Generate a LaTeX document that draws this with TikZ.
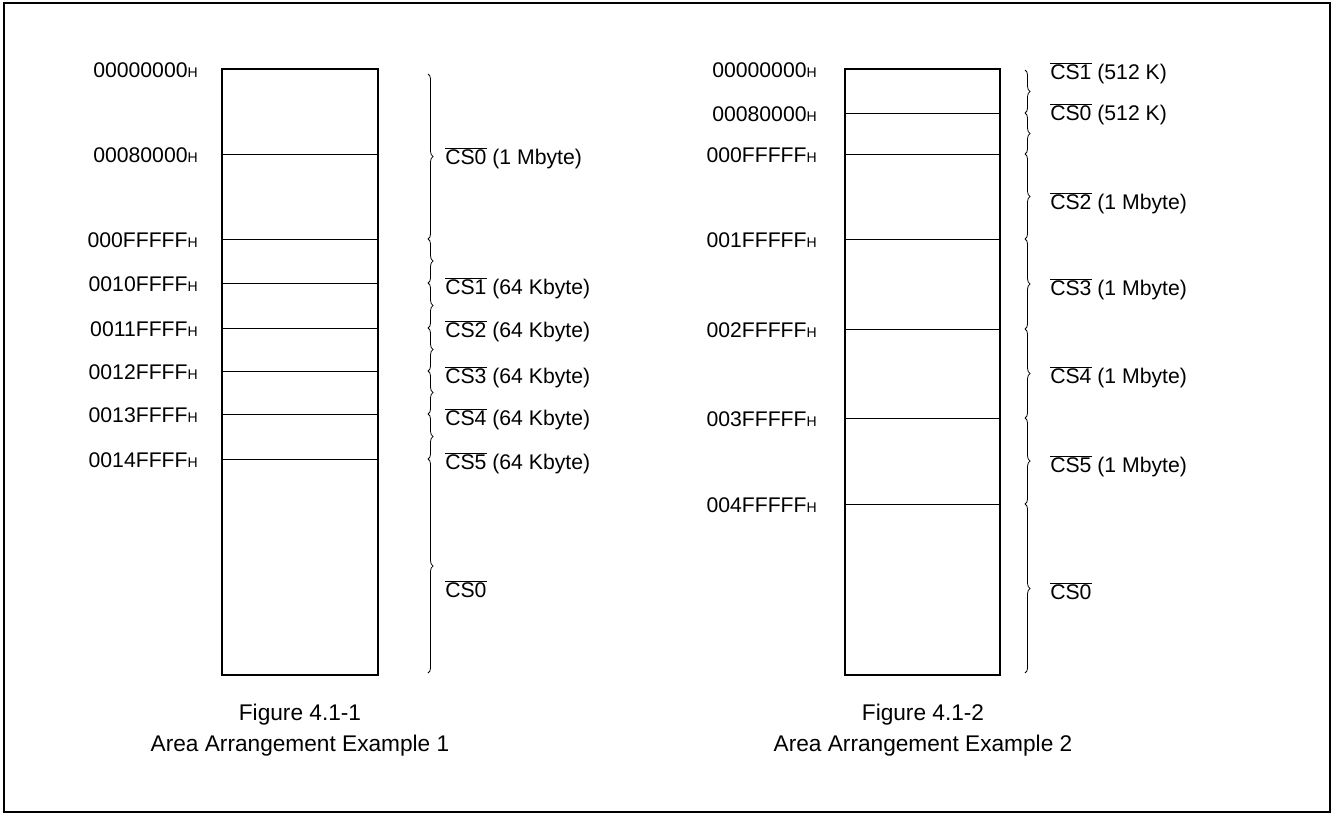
\documentclass[tikz,border=0pt]{standalone}
\usepackage{fontspec}
\setmainfont{Liberation Sans}
\usetikzlibrary{decorations.pathreplacing}

% small H after an address
\newcommand{\hsub}{{\fontsize{10.5}{11}\selectfont H}}
% chip select with a bar over it
\newcommand{\csbar}[1]{$\overline{\mbox{#1}}$}

\tikzset{
  membox/.style={line width=1.9pt},
  sepline/.style={line width=0.75pt},
  brc/.style={decorate, decoration={brace, amplitude=3.8pt}, line width=0.6pt},
  addr/.style={anchor=base east, inner sep=0pt, font=\fontsize{15.9}{19}\selectfont},
  cslab/.style={anchor=base west, inner sep=0pt, font=\fontsize{15.9}{19}\selectfont},
  figcap/.style={align=center, inner sep=0pt, font=\fontsize{17}{23.25}\selectfont}
}

\begin{document}
\begin{tikzpicture}[x=0.75pt, y=-0.75pt]
  \useasboundingbox (0,0) rectangle (1333,815);
  % outer frame
  \draw[line width=1.5pt] (4,3) rectangle (1330,812);

  % Example 1
  \draw[membox] (222,69) rectangle (378,675);
  \node[addr] (a1top) at (198,77) {00000000\hsub};
  \foreach \y/\ad [count=\i] in {154/00080000, 239/000FFFFF, 283/0010FFFF,
      328/0011FFFF, 371/0012FFFF, 414/0013FFFF, 459/0014FFFF} {
    \draw[sepline] (222,\y) -- (378,\y);
    \node[addr] (a1\i) at (198,\y+8) {\ad\hsub};
  }
  \foreach \a/\b in {74/239, 239/283, 283/328, 328/371, 371/414, 414/459, 459/673}
    \draw[brc] (428,\a) -- (428,\b);
  \foreach \y/\txt [count=\i] in {157/{\csbar{CS0} (1 Mbyte)}, 287/{\csbar{CS1} (64 Kbyte)},
      330/{\csbar{CS2} (64 Kbyte)}, 376/{\csbar{CS3} (64 Kbyte)},
      418/{\csbar{CS4} (64 Kbyte)}, 462/{\csbar{CS5} (64 Kbyte)}, 590/{\csbar{CS0}}}
    \node[cslab] (c1\i) at (445,\y+7.5) {\txt};
  \node[figcap] (cap1) at (300,730) {Figure 4.1-1\\Area Arrangement Example 1};

  % Example 2
  \draw[membox] (845,69) rectangle (1000,675);
  \node[addr] (a2top) at (817,77) {00000000\hsub};
  \foreach \y/\ad [count=\i] in {113/00080000, 154/000FFFFF, 239/001FFFFF,
      329/002FFFFF, 418/003FFFFF, 504/004FFFFF} {
    \draw[sepline] (845,\y) -- (1000,\y);
    \node[addr] (a2\i) at (817,\y+8) {\ad\hsub};
  }
  \foreach \a/\b in {70/113, 113/154, 154/239, 239/329, 329/418, 418/504, 504/673}
    \draw[brc] (1025,\a) -- (1025,\b);
  \foreach \y/\txt [count=\i] in {72/{\csbar{CS1} (512 K)}, 113/{\csbar{CS0} (512 K)},
      202/{\csbar{CS2} (1 Mbyte)}, 288/{\csbar{CS3} (1 Mbyte)},
      376/{\csbar{CS4} (1 Mbyte)}, 465/{\csbar{CS5} (1 Mbyte)}, 592/{\csbar{CS0}}}
    \node[cslab] (c2\i) at (1050,\y+7.5) {\txt};
  \node[figcap] (cap2) at (923,730) {Figure 4.1-2\\Area Arrangement Example 2};
\end{tikzpicture}
\end{document}
